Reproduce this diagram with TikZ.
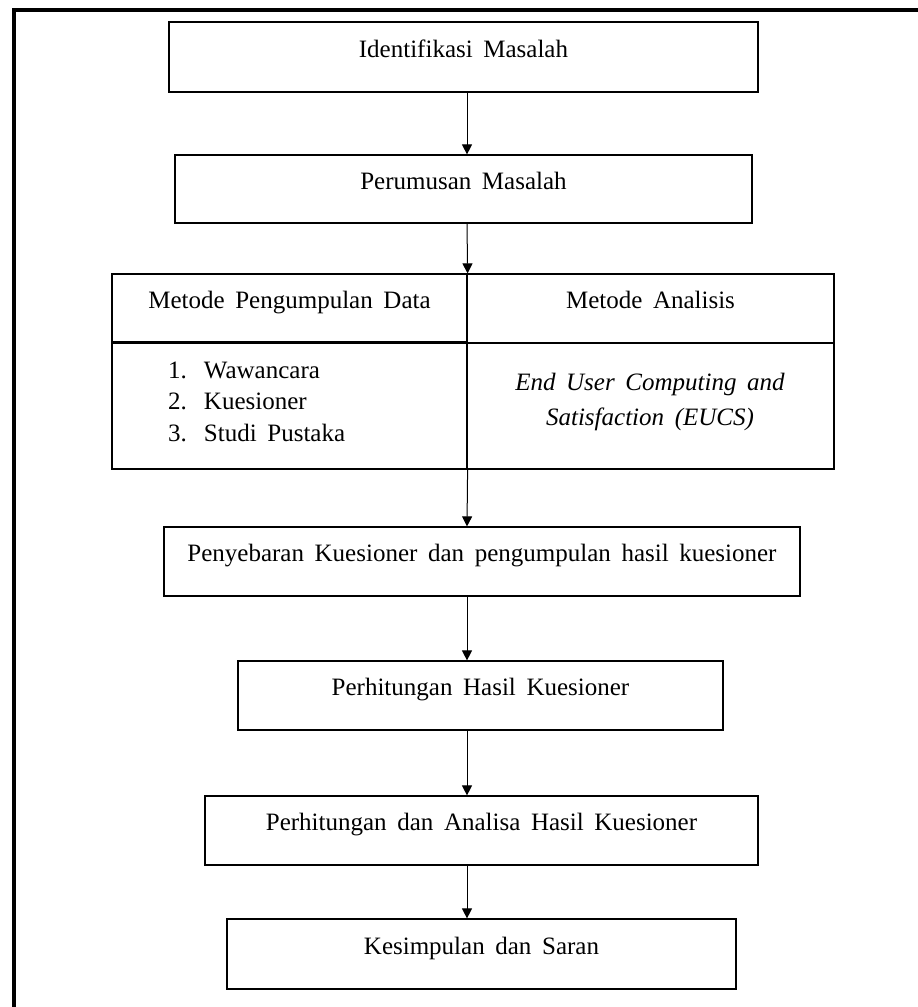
\documentclass[tikz,border=0pt]{standalone}
\usepackage{fontspec}
\setmainfont[WordSpace=1.7]{Liberation Serif}
\usetikzlibrary{arrows.meta}
\pgfdeclarelayer{edgelayer}
\pgfdeclarelayer{nodelayer}
\pgfsetlayers{edgelayer,nodelayer,main}
\tikzset{font=\fontsize{25}{31.5}\selectfont}
\tikzstyle{none}=[inner sep=0pt]
\tikzstyle{box}=[rectangle,draw,line width=1.2pt,inner sep=0pt,text height=18pt,text depth=18pt]
\tikzstyle{flow}=[line width=1pt,-{Triangle[length=10pt,width=10pt]}]

\begin{document}
\begin{tikzpicture}[x=1pt,y=-1pt]
	\useasboundingbox (0,0) rectangle (918,1007);
	\draw[line width=4pt] (14,1015) -- (14,9.5) -- (925,9.5);
	\begin{pgfonlayer}{nodelayer}
		\coordinate (col) at (467,0);
		\node [style=box, minimum width=589pt, minimum height=70pt] (0) at (463.5,57) {Identifikasi Masalah};
		\node [style=box, minimum width=577pt, minimum height=68pt] (1) at (463.5,189) {Perumusan Masalah};
		\node [style=box, minimum width=355pt, minimum height=69pt] (2) at (289.5,308.5) {Metode Pengumpulan Data};
		\node [style=box, minimum width=367pt, minimum height=69pt] (3) at (650.5,308.5) {Metode Analisis};
		\node [style=box, minimum width=355pt, minimum height=126pt] (4) at (289.5,406) {};
		\node [style=box, minimum width=367pt, minimum height=126pt] (5) at (650.5,406) {};
		\node [style=none, anchor=base west] (6) at (168,378) {\begin{tabular}[t]{@{}l@{\hspace{17pt}}l@{}}1. & Wawancara\\2. & Kuesioner\\3. & Studi Pustaka\end{tabular}};
		\node [style=none, align=center, font=\fontsize{25}{35}\selectfont\itshape] (7) at (650,402) {End User Computing and\\Satisfaction (EUCS)};
		\node [style=box, minimum width=636pt, minimum height=69pt] (8) at (482,561.5) {Penyebaran Kuesioner dan pengumpulan hasil kuesioner};
		\node [style=box, minimum width=485pt, minimum height=69pt] (9) at (480.5,695.5) {Perhitungan Hasil Kuesioner};
		\node [style=box, minimum width=553pt, minimum height=69pt] (10) at (481.5,830.5) {Perhitungan dan Analisa Hasil Kuesioner};
		\node [style=box, minimum width=509pt, minimum height=70pt] (11) at (481.5,954) {Kesimpulan dan Saran};
		\draw[line width=2.2pt] (4.north west) to (4.north east);
	\end{pgfonlayer}
	\begin{pgfonlayer}{edgelayer}
		\draw [style=flow] (0.south -| col) to (1.north -| col);
		\draw [style=flow] (1.south -| col) to (2.north east);
		\draw [style=flow] (4.south east) to (8.north -| col);
		\draw [style=flow] (8.south -| col) to (9.north -| col);
		\draw [style=flow] (9.south -| col) to (10.north -| col);
		\draw [style=flow] (10.south -| col) to (11.north -| col);
	\end{pgfonlayer}
\end{tikzpicture}
\end{document}
